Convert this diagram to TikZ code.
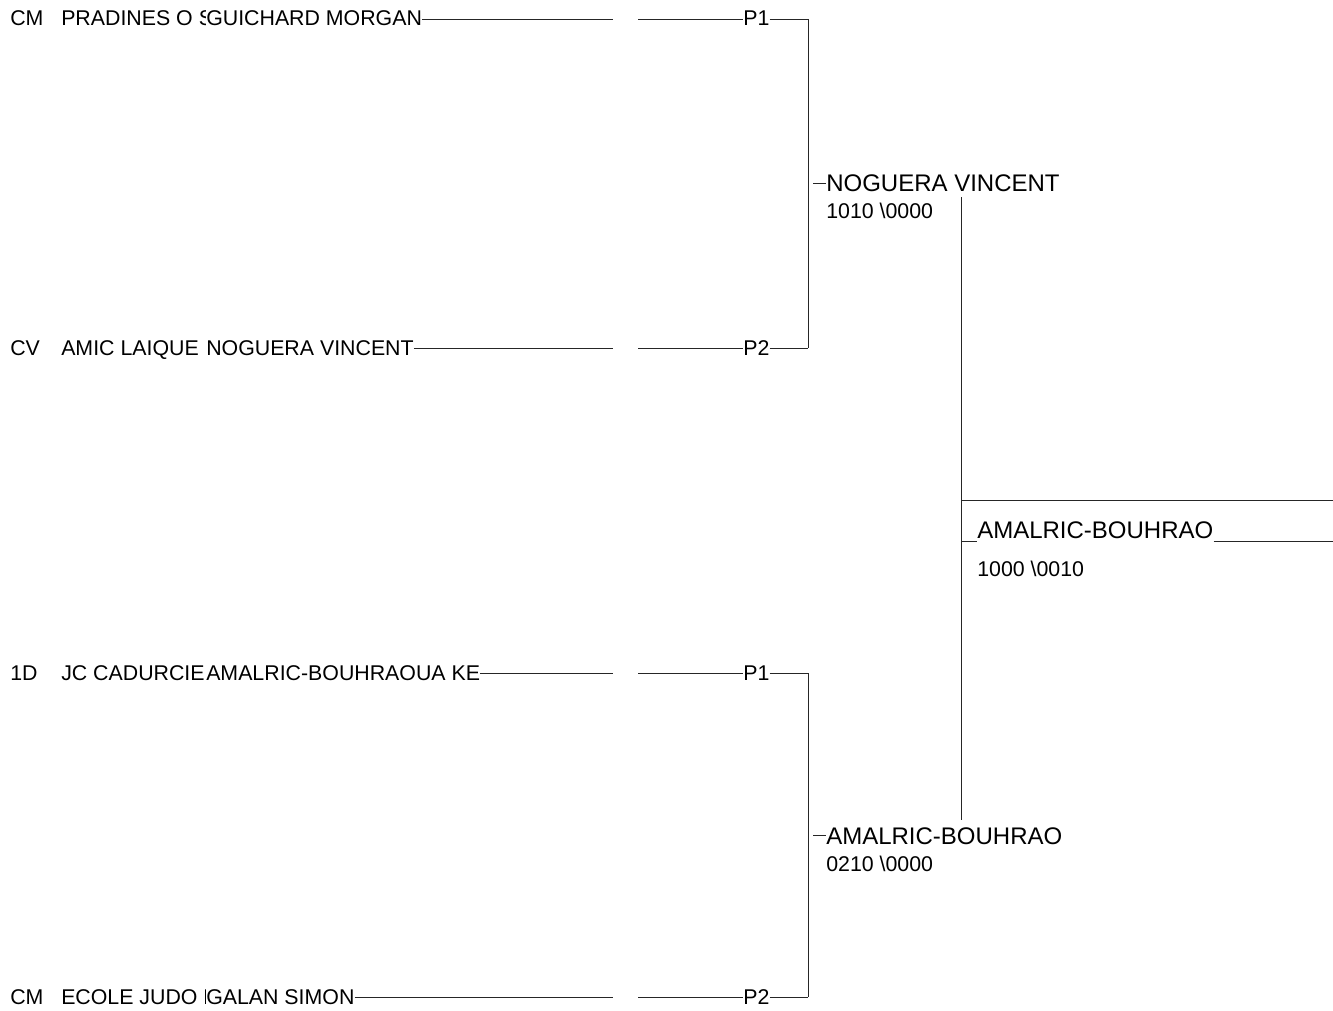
\documentclass[tikz,border=0pt]{standalone}
\usepackage{fontspec}
\setmainfont{Liberation Sans}
\usetikzlibrary{positioning,calc}
\tikzset{txt/.style={anchor=base west, inner sep=0pt, font=\fontsize{16}{18}\selectfont},
bigtxt/.style={anchor=base west, inner sep=0pt, font=\fontsize{18}{21}\selectfont},
cover/.style={txt, fill=white, inner xsep=0pt, inner ysep=2pt},
tree/.style={line width=0.75pt, black!85}}

\begin{document}
\begin{tikzpicture}[x=0.75pt,y=-0.75pt]
        \useasboundingbox (0,0) rectangle (1333,1010);

        % entrants
        \node[txt] (cat1) at (10,26) {CM};
        \node[txt] (club1) at (61,26) {PRADINES O S};
        \node[cover] (name1) at (206,26) {GUICHARD MORGAN};
        \node[txt] (cat2) at (10,355) {CV};
        \node[txt] (club2) at (61,355) {AMIC LAIQUE N};
        \node[cover] (name2) at (206,355) {NOGUERA VINCENT};
        \node[txt] (cat3) at (10,680) {1D};
        \node[txt] (club3) at (61,680) {JC CADURCIE};
        \node[cover] (name3) at (206,680) {AMALRIC-BOUHRAOUA KE};
        \node[txt] (cat4) at (10,1004) {CM};
        \node[txt] (club4) at (61,1004) {ECOLE JUDO L};
        \node[cover] (name4) at (206,1004) {GALAN SIMON};

        \node[txt] (pa) at (743,26) {P1};
        \node[txt] (pb) at (743,355) {P2};
        \node[txt] (pc) at (743,680) {P1};
        \node[txt] (pd) at (743,1004) {P2};

        \coordinate (gap1) at (613,19);  \coordinate (gap2) at (613,348);
        \coordinate (gap3) at (613,673); \coordinate (gap4) at (613,997);
        \coordinate (cont1) at (638,19);  \coordinate (cont2) at (638,348);
        \coordinate (cont3) at (638,673); \coordinate (cont4) at (638,997);
        \coordinate (corner1) at (808,19);  \coordinate (corner2) at (808,348);
        \coordinate (corner3) at (808,673); \coordinate (corner4) at (808,997);

        % semi-final winners
        \node[bigtxt] (semi1) at (826,191) {NOGUERA VINCENT};
        \node[txt] (score1) at (826,218) {1010 \textbackslash 0000};
        \node[bigtxt] (semi2) at (826,844) {AMALRIC-BOUHRAO};
        \node[txt] (score2) at (826,871) {0210 \textbackslash 0000};
        \coordinate (tick1) at (813,183);
        \coordinate (tick2) at (813,835);

        % final
        \coordinate (top) at (961,197);
        \coordinate (bottom) at (961,820);
        \coordinate (edge1) at (1333,500);
        \coordinate (edge2) at (1333,541);
        \node[bigtxt] (winner) at (977,538) {AMALRIC-BOUHRAO};
        \node[txt] (score) at (977,576) {1000 \textbackslash 0010};

        \draw[tree] (name1.east |- gap1) -- (gap1)
              (cont1) -- (pa.west |- cont1)
              (pa.east |- corner1) -- (corner1) -- (corner2)
              (name2.east |- gap2) -- (gap2)
              (cont2) -- (pb.west |- cont2)
              (pb.east |- corner2) -- (corner2)
              (name3.east |- gap3) -- (gap3)
              (cont3) -- (pc.west |- cont3)
              (pc.east |- corner3) -- (corner3) -- (corner4)
              (name4.east |- gap4) -- (gap4)
              (cont4) -- (pd.west |- cont4)
              (pd.east |- corner4) -- (corner4)
              (tick1) -- (semi1.west |- tick1)
              (tick2) -- (semi2.west |- tick2)
              (top) -- (bottom)
              (top |- edge1) -- (edge1)
              (top |- edge2) -- (winner.west |- edge2)
              (winner.east |- edge2) -- (edge2)
              ;
    \end{tikzpicture}
\end{document}
